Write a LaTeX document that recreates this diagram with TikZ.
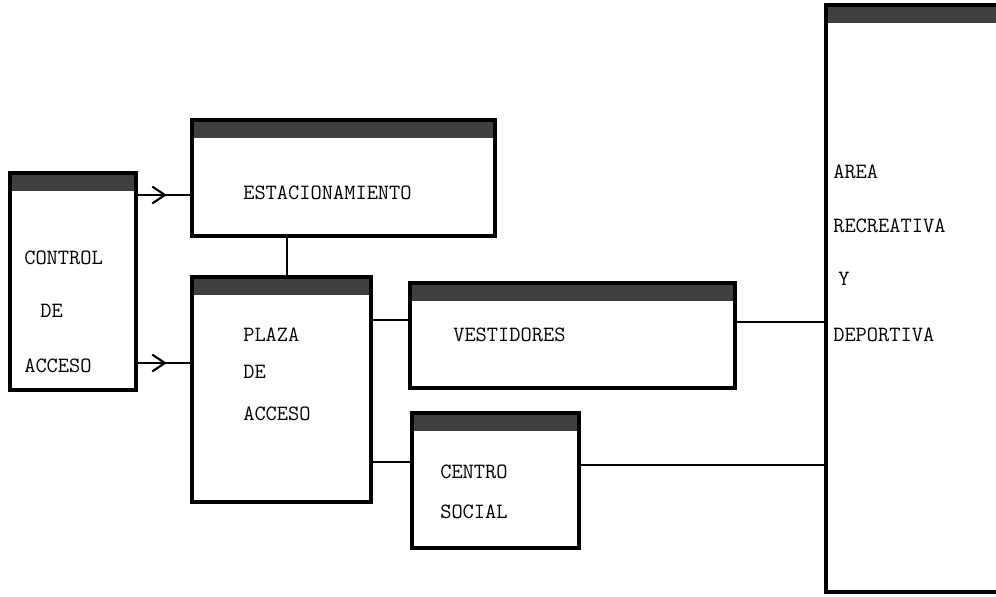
\documentclass[tikz,border=0pt]{standalone}
\usetikzlibrary{arrows.meta,decorations.markings}
\newdimen\pxu \pxu=0.025cm
\begin{document}
\begin{tikzpicture}[x=0.025cm, y=-0.025cm,
  box/.style={draw, line width=2.8pt, inner sep=0pt, outer sep=0pt, anchor=north west,
    path picture={\fill[black!75] (path picture bounding box.north west) rectangle ([yshift=-18\pxu]path picture bounding box.north east);}},
  lbl/.style={anchor=west, inner sep=0pt, font=\ttfamily\fontsize{15.5}{18}\selectfont},
  link/.style={line width=1.5pt},
  midarrow/.style={postaction={decorate}, decoration={markings,
    mark=at position 0.55 with {\arrow{Straight Barb[length=9pt,width=12pt,line width=1.5pt]}}}}]
\clip (0,0) rectangle (996,597);
\node[box, minimum width=126\pxu, minimum height=217\pxu] (control) at (10,173) {};
\node[box, minimum width=303\pxu, minimum height=116\pxu] (estac) at (192,120) {};
\node[box, minimum width=179\pxu, minimum height=225\pxu] (plaza) at (192,277) {};
\node[box, minimum width=325\pxu, minimum height=105\pxu] (vest) at (410,283) {};
\node[box, minimum width=167\pxu, minimum height=135\pxu] (centro) at (412,413) {};
\node[box, minimum width=190\pxu, minimum height=587\pxu] (area) at (826,5) {};
\node[lbl] (tcontrol) at (24,258) {CONTROL};
\node[lbl] (tde) at (40,311) {DE};
\node[lbl] (tacceso) at (24,366) {ACCESO};
\node[lbl] (testac) at (243,193) {ESTACIONAMIENTO};
\node[lbl] (tplaza) at (243,335) {PLAZA};
\node[lbl] (tplazade) at (243,372) {DE};
\node[lbl] (tplazaacc) at (243,414) {ACCESO};
\node[lbl] (tvest) at (453,335) {VESTIDORES};
\node[lbl] (tcentro) at (440,472) {CENTRO};
\node[lbl] (tsocial) at (440,512) {SOCIAL};
\node[lbl] (tarea) at (833,172) {AREA};
\node[lbl] (trecre) at (833,226) {RECREATIVA};
\node[lbl] (ty) at (838,279) {Y};
\node[lbl] (tdepor) at (833,335) {DEPORTIVA};
\draw[link, midarrow] ([yshift=-22\pxu]control.north east) -- ([yshift=-75\pxu]estac.north west);
\draw[link, midarrow] ([yshift=-190\pxu]control.north east) -- ([yshift=-86\pxu]plaza.north west);
\draw[link] ([xshift=95\pxu]estac.south west) -- ([xshift=95\pxu]plaza.north west);
\draw[link] ([yshift=-43\pxu]plaza.north east) -- ([yshift=-37\pxu]vest.north west);
\draw[link] ([yshift=-185\pxu]plaza.north east) -- ([yshift=-49\pxu]centro.north west);
\draw[link] ([yshift=-39\pxu]vest.north east) -- ([yshift=-317\pxu]area.north west);
\draw[link] ([yshift=-52\pxu]centro.north east) -- ([yshift=-460\pxu]area.north west);
\end{tikzpicture}
\end{document}
